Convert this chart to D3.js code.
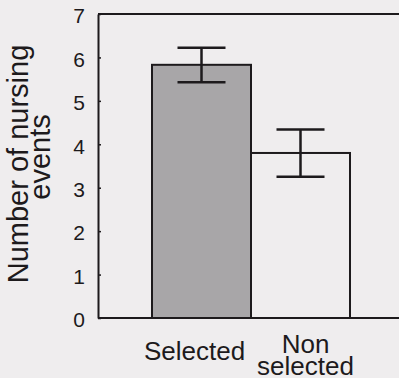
<!DOCTYPE html>
<html>
<head>
<meta charset="utf-8">
<script src="https://cdn.jsdelivr.net/npm/d3@7"></script>
<style>
  html, body { margin: 0; padding: 0; background: #efedee; }
  svg { display: block; font-family: "Liberation Sans", Arial, sans-serif; }
</style>
</head>
<body>
<div id="chart"></div>
<script>
// data
const categories = ["Selected", "Non selected"];
const means = [5.83, 3.80];
const errLow = [5.43, 3.25];
const errHigh = [6.22, 4.34];
const yTicks = [0, 1, 2, 3, 4, 5, 6, 7];

const width = 399, height = 378;
const margin = {top: 14, right: 0, bottom: 60, left: 98};
const ink = "#1d1a1c";

const svg = d3.select("#chart").append("svg")
    .attr("width", width)
    .attr("height", height);

const y = d3.scaleLinear().domain([0, 7]).range([height - margin.bottom, margin.top]);
const x = d3.scaleBand().domain(categories).range([152, 350]).paddingInner(0).paddingOuter(0);

// frame lines: top and bottom run to the right edge
svg.append("line")
    .attr("x1", margin.left).attr("x2", width)
    .attr("y1", y(7)).attr("y2", y(7))
    .style("stroke", ink).style("stroke-width", 2);
svg.append("line")
    .attr("x1", margin.left).attr("x2", width)
    .attr("y1", y(0)).attr("y2", y(0))
    .style("stroke", ink).style("stroke-width", 2);

// bars
categories.forEach(function(c, i) {
    svg.append("rect")
        .attr("x", x(c))
        .attr("y", y(means[i]))
        .attr("width", x.bandwidth())
        .attr("height", y(0) - y(means[i]))
        .style("fill", i === 0 ? "#a8a6a8" : "none")
        .style("stroke", ink)
        .style("stroke-width", 2);
});

// error bars
const capHalf = 24;
categories.forEach(function(c, i) {
    let cx = x(c) + x.bandwidth() / 2;
    let g = svg.append("g").style("stroke", ink).style("stroke-width", 2.5);
    g.append("line")
        .attr("x1", cx).attr("x2", cx)
        .attr("y1", y(errHigh[i])).attr("y2", y(errLow[i]));
    g.append("line")
        .attr("x1", cx - capHalf).attr("x2", cx + capHalf)
        .attr("y1", y(errHigh[i])).attr("y2", y(errHigh[i]));
    g.append("line")
        .attr("x1", cx - capHalf).attr("x2", cx + capHalf)
        .attr("y1", y(errLow[i])).attr("y2", y(errLow[i]));
});

// y axis, ticks point inward
const yAxis = svg.append("g")
    .attr("transform", "translate(" + margin.left + ",0)")
    .call(d3.axisLeft(y).tickValues(yTicks).tickFormat(d3.format("d"))
        .tickSizeInner(-3).tickSizeOuter(0).tickPadding(13));
yAxis.select(".domain").style("stroke", ink).style("stroke-width", 2);
yAxis.selectAll(".tick line").style("stroke", ink).style("stroke-width", 1.5);
yAxis.selectAll(".tick text")
    .style("font-size", "21px")
    .style("fill", ink)
    .attr("dy", "0.42em");

// x labels
svg.append("text")
    .attr("x", x("Selected") + x.bandwidth() / 2 - 7)
    .attr("y", 360)
    .attr("text-anchor", "middle")
    .style("font-size", "26px").style("fill", ink)
    .text("Selected");
const nsx = x("Non selected") + x.bandwidth() / 2 + 5;
svg.append("text")
    .attr("x", nsx).attr("y", 353)
    .attr("text-anchor", "middle")
    .style("font-size", "26px").style("fill", ink)
    .text("Non");
svg.append("text")
    .attr("x", nsx).attr("y", 375)
    .attr("text-anchor", "middle")
    .style("font-size", "26px").style("fill", ink)
    .text("selected");

// y title, two lines
svg.append("text")
    .attr("transform", "translate(28,164) rotate(-90)")
    .attr("text-anchor", "middle")
    .style("font-size", "29px").style("fill", ink)
    .text("Number of nursing");
svg.append("text")
    .attr("transform", "translate(50,157) rotate(-90)")
    .attr("text-anchor", "middle")
    .style("font-size", "29px").style("fill", ink)
    .text("events");
</script>
</body>
</html>
